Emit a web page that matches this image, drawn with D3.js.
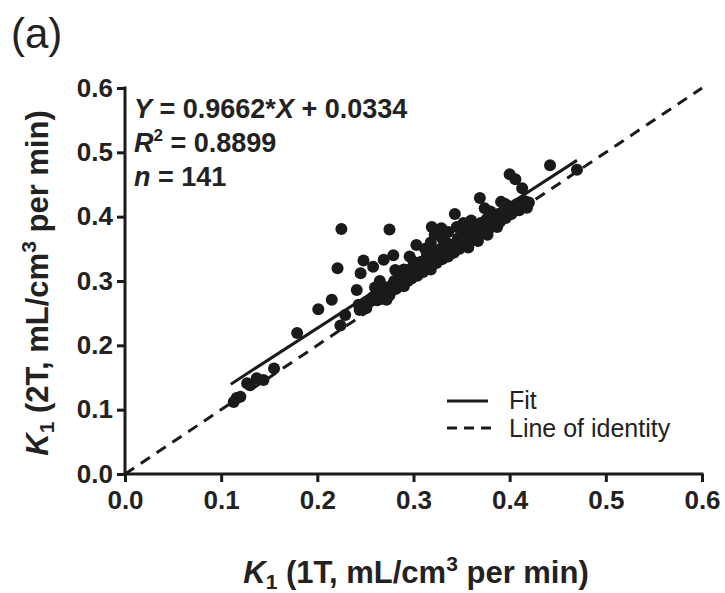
<!DOCTYPE html>
<html><head><meta charset="utf-8">
<script src="https://cdn.jsdelivr.net/npm/d3@7"></script>
<style>body{margin:0;background:#fff}</style>
</head><body>
<svg id="c" width="725" height="593"></svg>
<script>
const xValues = [0.113,0.116,0.120,0.127,0.130,0.137,0.144,0.155,0.179,
0.201,0.215,0.221,0.225,0.224,0.229,0.241,0.243,0.244,0.245,0.248,0.251,0.258,0.265,0.269,0.272,0.276,0.275,0.279,0.281,0.296,0.303,0.319,0.329,0.343,0.369,0.374,0.391,0.400,0.406,0.413,0.442,0.470,
0.250,0.255,0.258,0.262,0.265,0.268,0.270,0.272,0.275,0.278,0.280,0.282,0.285,0.287,0.290,0.292,0.294,0.296,0.298,0.300,0.302,0.304,0.306,0.308,0.310,0.312,0.314,0.316,0.318,0.320,0.322,0.324,0.326,0.328,0.330,0.332,0.334,0.336,0.338,0.340,0.342,0.344,0.346,0.348,0.350,0.352,0.354,0.356,0.358,0.360,0.362,0.364,0.366,0.368,0.370,0.372,0.374,0.376,0.378,0.380,0.382,0.384,0.386,0.388,0.390,0.392,0.394,0.396,0.398,0.400,0.402,0.405,0.408,0.410,0.413,0.416,0.418,0.420,
0.322,0.330,0.336,0.345,0.352,0.360,0.380,0.395,0.290,0.300,0.285,0.260,0.312,0.318,
0.266,0.276,0.357,0.367,0.377,0.387];
const yValues = [0.112,0.118,0.120,0.141,0.138,0.149,0.146,0.164,0.219,
0.256,0.271,0.320,0.381,0.231,0.247,0.286,0.263,0.255,0.312,0.332,0.258,0.322,0.300,0.333,0.271,0.286,0.380,0.340,0.317,0.338,0.356,0.384,0.382,0.404,0.429,0.413,0.423,0.466,0.458,0.444,0.480,0.473,
0.262,0.268,0.275,0.270,0.280,0.276,0.290,0.283,0.278,0.292,0.300,0.288,0.296,0.305,0.292,0.310,0.300,0.318,0.304,0.312,0.325,0.308,0.318,0.330,0.314,0.322,0.340,0.326,0.318,0.332,0.345,0.328,0.338,0.350,0.334,0.342,0.360,0.338,0.348,0.356,0.344,0.352,0.366,0.350,0.358,0.372,0.356,0.364,0.378,0.362,0.370,0.384,0.368,0.376,0.390,0.374,0.382,0.396,0.380,0.388,0.398,0.386,0.394,0.404,0.392,0.400,0.410,0.398,0.406,0.416,0.404,0.412,0.420,0.410,0.418,0.424,0.414,0.422,
0.372,0.366,0.376,0.384,0.390,0.394,0.408,0.420,0.318,0.330,0.312,0.290,0.350,0.360,
0.272,0.284,0.352,0.362,0.372,0.384];
const tickValues = [0.0,0.1,0.2,0.3,0.4,0.5,0.6];
const fitSlope = 0.9662, fitIntercept = 0.0334;
const fitRange = [0.11, 0.47];
const identityRange = [0.0, 0.6];

const svg = d3.select("#c");
const FONT = "'Liberation Sans', Arial, sans-serif";
const INK = "#1a1a1a";
const x = d3.scaleLinear().domain([0,0.6]).range([125,702]);
const y = d3.scaleLinear().domain([0,0.6]).range([474,88]);

// identity line
svg.append("line")
  .attr("x1", x(identityRange[0])).attr("y1", y(identityRange[0]))
  .attr("x2", x(identityRange[1])).attr("y2", y(identityRange[1]))
  .attr("stroke",INK).attr("stroke-width",3).attr("stroke-dasharray","11,8");

// points
const pts = xValues.map((v,i)=>[v,yValues[i]]);
svg.append("g").selectAll("circle").data(pts).join("circle")
  .attr("cx", d=>x(d[0])).attr("cy", d=>y(d[1])).attr("r",6).attr("fill",INK);

// fit line
svg.append("line")
  .attr("x1", x(fitRange[0])).attr("y1", y(fitSlope*fitRange[0]+fitIntercept))
  .attr("x2", x(fitRange[1])).attr("y2", y(fitSlope*fitRange[1]+fitIntercept))
  .attr("stroke",INK).attr("stroke-width",3);

// axes
const fmt = d3.format(".1f");
const gx = svg.append("g").attr("transform","translate(0,474)")
  .call(d3.axisBottom(x).tickValues(tickValues).tickFormat(fmt).tickSize(8).tickPadding(9));
const gy = svg.append("g").attr("transform","translate(125,0)")
  .call(d3.axisLeft(y).tickValues(tickValues).tickFormat(fmt).tickSize(8).tickPadding(4));
[gx,gy].forEach(g=>{
  g.select(".domain").attr("stroke",INK).attr("stroke-width",3);
  g.selectAll(".tick line").attr("stroke",INK).attr("stroke-width",3);
  g.selectAll(".tick text").attr("font-family",FONT).attr("font-size",26).attr("font-weight","bold").attr("fill","#222");
});
gx.select(".domain").attr("d","M123.5,0H703.5");
gy.select(".domain").attr("d","M0,86.5V475.5");

// title
svg.append("text").attr("x",11).attr("y",48).attr("font-family",FONT).attr("font-size",42).attr("fill","#222").text("(a)");

// annotation
const ann = svg.append("g").attr("font-family",FONT).attr("font-size",27).attr("font-weight","bold").attr("fill","#222");
let t = ann.append("text").attr("x",134).attr("y",118);
t.append("tspan").attr("font-style","italic").text("Y");
t.append("tspan").text(" = 0.9662*");
t.append("tspan").attr("font-style","italic").text("X");
t.append("tspan").text(" + 0.0334");
t = ann.append("text").attr("x",134).attr("y",152);
t.append("tspan").attr("font-style","italic").text("R");
t.append("tspan").attr("font-size",17).attr("dy",-11).text("2");
t.append("tspan").attr("dy",11).text(" = 0.8899");
t = ann.append("text").attr("x",134).attr("y",186);
t.append("tspan").attr("font-style","italic").text("n");
t.append("tspan").text(" = 141");

// axis labels
function axisLabel(g, series) {
  g.append("tspan").attr("font-style","italic").text("K");
  g.append("tspan").attr("font-size",21).attr("dy",6).text("1");
  g.append("tspan").attr("dy",-6).text(" (" + series + ", mL/cm");
  g.append("tspan").attr("font-size",21).attr("dy",-12).text("3");
  g.append("tspan").attr("dy",12).text(" per min)");
}
const xl = svg.append("text").attr("x",416).attr("y",583).attr("text-anchor","middle")
  .attr("font-family",FONT).attr("font-size",31).attr("font-weight","bold").attr("fill","#222");
axisLabel(xl, "1T");
const yl = svg.append("text").attr("transform","translate(48,283) rotate(-90)").attr("text-anchor","middle")
  .attr("font-family",FONT).attr("font-size",31).attr("font-weight","bold").attr("fill","#222");
axisLabel(yl, "2T");

// legend
const lg = svg.append("g");
lg.append("line").attr("x1",447).attr("x2",488).attr("y1",401).attr("y2",401).attr("stroke",INK).attr("stroke-width",3);
lg.append("line").attr("x1",447).attr("x2",491).attr("y1",428).attr("y2",428).attr("stroke",INK).attr("stroke-width",3).attr("stroke-dasharray","10,7");
lg.append("text").attr("x",509).attr("y",409).attr("font-family",FONT).attr("font-size",25).attr("fill","#222").text("Fit");
lg.append("text").attr("x",509).attr("y",437).attr("font-family",FONT).attr("font-size",25).attr("fill","#222").text("Line of identity");
</script>
</body></html>
